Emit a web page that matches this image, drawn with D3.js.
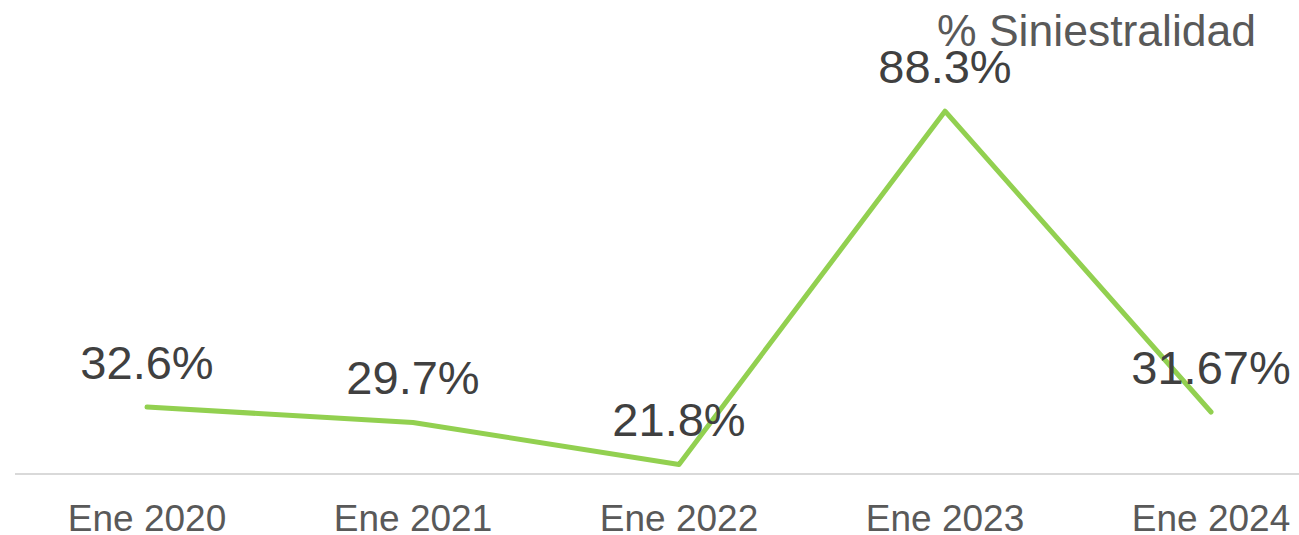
<!DOCTYPE html>
<html>
<head>
<meta charset="utf-8">
<script src="https://cdn.jsdelivr.net/npm/d3@7"></script>
<style>
  body { margin: 0; background: #fff; }
  svg { display: block; font-family: "Liberation Sans", Arial, sans-serif; }
</style>
</head>
<body>
<svg id="chart"></svg>
<script>
var w = 1299
var h = 535

// ########## Data ##########
var categories = ["Ene 2020", "Ene 2021", "Ene 2022", "Ene 2023", "Ene 2024"];
var values = [32.6, 29.7, 21.8, 88.3, 31.67];
var valueLabels = ["32.6%", "29.7%", "21.8%", "88.3%", "31.67%"];
var seriesName = "% Siniestralidad";

// ########## SVG ##########
var svg = d3.select("#chart")
    .attr("width", w)
    .attr("height", h);

var x = d3.scalePoint()
    .domain(categories)
    .range([147, 1211]);

var y = d3.scaleLinear()
    .domain([20, 100])
    .range([474, 49]);

// ########## Baseline ##########
svg.append("line")
    .attr("x1", 15)
    .attr("x2", w)
    .attr("y1", y(20))
    .attr("y2", y(20))
    .attr("stroke", "#d9d9d9")
    .attr("stroke-width", 2);

// ########## X axis labels ##########
svg.selectAll(".tick-label")
    .data(categories).enter()
    .append("text")
    .attr("class", "tick-label")
    .attr("x", function (d) { return x(d); })
    .attr("y", 531)
    .attr("text-anchor", "middle")
    .attr("font-size", 37)
    .attr("fill", "#595959")
    .text(function (d) { return d; });

// ########## Line ##########
var line = d3.line()
    .x(function (d, i) { return x(categories[i]); })
    .y(function (d) { return y(d); });

svg.append("path")
    .datum(values)
    .attr("d", line)
    .attr("fill", "none")
    .attr("stroke", "#92d050")
    .attr("stroke-width", 5)
    .attr("stroke-linecap", "round")
    .attr("stroke-linejoin", "round");

// ########## Data labels ##########
svg.selectAll(".value-label")
    .data(values).enter()
    .append("text")
    .attr("class", "value-label")
    .attr("x", function (d, i) { return x(categories[i]); })
    .attr("y", function (d) { return y(d) - 28; })
    .attr("text-anchor", "middle")
    .attr("font-size", 47)
    .attr("fill", "#404040")
    .text(function (d, i) { return valueLabels[i]; });

// ########## Legend ##########
svg.append("text")
    .attr("x", 937)
    .attr("y", 46)
    .attr("font-size", 44.5)
    .attr("fill", "#595959")
    .text(seriesName);
</script>
</body>
</html>
